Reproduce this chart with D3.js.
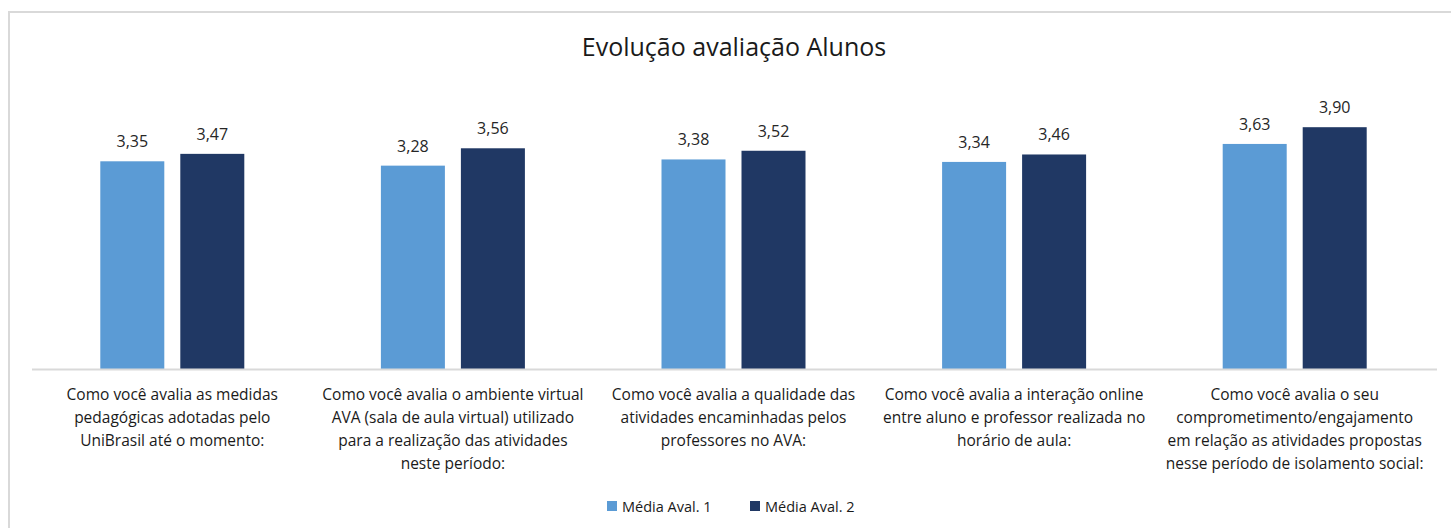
<!DOCTYPE html>
<html>
<head>
<meta charset="utf-8">
<script src="https://cdn.jsdelivr.net/npm/d3@7"></script>
<style>
  body { margin: 0; background: #fff; }
  svg { display: block; }
</style>
</head>
<body>
<div id="chart"></div>
<script>
// chart data
const categories = [
    "Como você avalia as medidas\npedagógicas adotadas pelo\nUniBrasil até o momento:",
    "Como você avalia o ambiente virtual\nAVA (sala de aula virtual) utilizado\npara a realização das atividades\nneste período:",
    "Como você avalia a qualidade das\natividades encaminhadas pelos\nprofessores no AVA:",
    "Como você avalia a interação online\nentre aluno e professor realizada no\nhorário de aula:",
    "Como você avalia o seu\ncomprometimento/engajamento\nem relação as atividades propostas\nnesse período de isolamento social:"
];
const seriesNames = ["Média Aval. 1", "Média Aval. 2"];
const aval1 = [3.35, 3.28, 3.38, 3.34, 3.63];
const aval2 = [3.47, 3.56, 3.52, 3.46, 3.90];
const colors = ["#5b9bd5", "#203864"];

const width = 1451, height = 528;
const fontFamily = "'Open Sans', 'Noto Sans', sans-serif";

const svg = d3.select("#chart")
    .append("svg")
    .attr("width", width)
    .attr("height", height);

// outer frame (runs off the right and bottom of the picture)
svg.append("rect")
    .attr("x", 9).attr("y", 12)
    .attr("width", width).attr("height", height)
    .attr("fill", "#fff")
    .attr("stroke", "#d9d9d9")
    .attr("stroke-width", 2);

svg.append("text")
    .attr("x", 734)
    .attr("y", 56)
    .attr("text-anchor", "middle")
    .attr("font-family", fontFamily)
    .attr("font-size", 25)
    .attr("fill", "#1a1a1a")
    .text("Evolução avaliação Alunos");

const x0 = d3.scaleBand()
    .domain(categories)
    .range([32, 1435]);

const x1 = d3.scaleBand()
    .domain(seriesNames)
    .range([0, 144])
    .paddingInner(0.2);

const y = d3.scaleLinear()
    .domain([0, 4.5])
    .range([369, 90]);

const rows = categories.map((c, i) => ({
    cat: c,
    values: [aval1[i], aval2[i]]
}));

const group = svg.selectAll(".cat")
    .data(rows)
    .enter()
    .append("g")
    .attr("class", "cat")
    .attr("transform", d => "translate(" + (x0(d.cat) + x0.bandwidth() / 2 - 72) + ",0)");

group.selectAll("rect")
    .data(d => d.values.map((v, j) => ({ name: seriesNames[j], value: v, j: j })))
    .enter()
    .append("rect")
    .attr("x", d => x1(d.name))
    .attr("y", d => y(d.value))
    .attr("width", x1.bandwidth())
    .attr("height", d => y(0) - y(d.value))
    .attr("fill", d => colors[d.j]);

group.selectAll(".val")
    .data(d => d.values.map((v, j) => ({ name: seriesNames[j], value: v })))
    .enter()
    .append("text")
    .attr("class", "val")
    .attr("x", d => x1(d.name) + x1.bandwidth() / 2)
    .attr("y", d => y(d.value) - 14)
    .attr("text-anchor", "middle")
    .attr("font-family", fontFamily)
    .attr("font-size", 16)
    .attr("fill", "#262626")
    .text(d => d.value.toFixed(2).replace(".", ","));

// category axis
svg.append("line")
    .attr("x1", 32).attr("x2", 1437)
    .attr("y1", y(0) + 0.5).attr("y2", y(0) + 0.5)
    .attr("stroke", "#d9d9d9")
    .attr("stroke-width", 2);

const labels = svg.selectAll(".catlabel")
    .data(categories)
    .enter()
    .append("text")
    .attr("class", "catlabel")
    .attr("text-anchor", "middle")
    .attr("font-family", fontFamily)
    .attr("font-size", 15.5)
    .attr("fill", "#1a1a1a");

labels.each(function(d) {
    const t = d3.select(this);
    d.split("\n").forEach((line, k) => {
        t.append("tspan")
            .attr("x", x0(d) + x0.bandwidth() / 2)
            .attr("y", 400 + k * 23)
            .text(line);
    });
});

// legend
const legendX = [607, 750];
const legend = svg.selectAll(".legend")
    .data(seriesNames)
    .enter()
    .append("g")
    .attr("class", "legend")
    .attr("transform", (d, i) => "translate(" + legendX[i] + ",501)");

legend.append("rect")
    .attr("width", 10)
    .attr("height", 10)
    .attr("fill", (d, i) => colors[i]);

legend.append("text")
    .attr("x", 15)
    .attr("y", 10.5)
    .attr("font-family", fontFamily)
    .attr("font-size", 14.5)
    .attr("fill", "#1a1a1a")
    .text(d => d);
</script>
</body>
</html>
